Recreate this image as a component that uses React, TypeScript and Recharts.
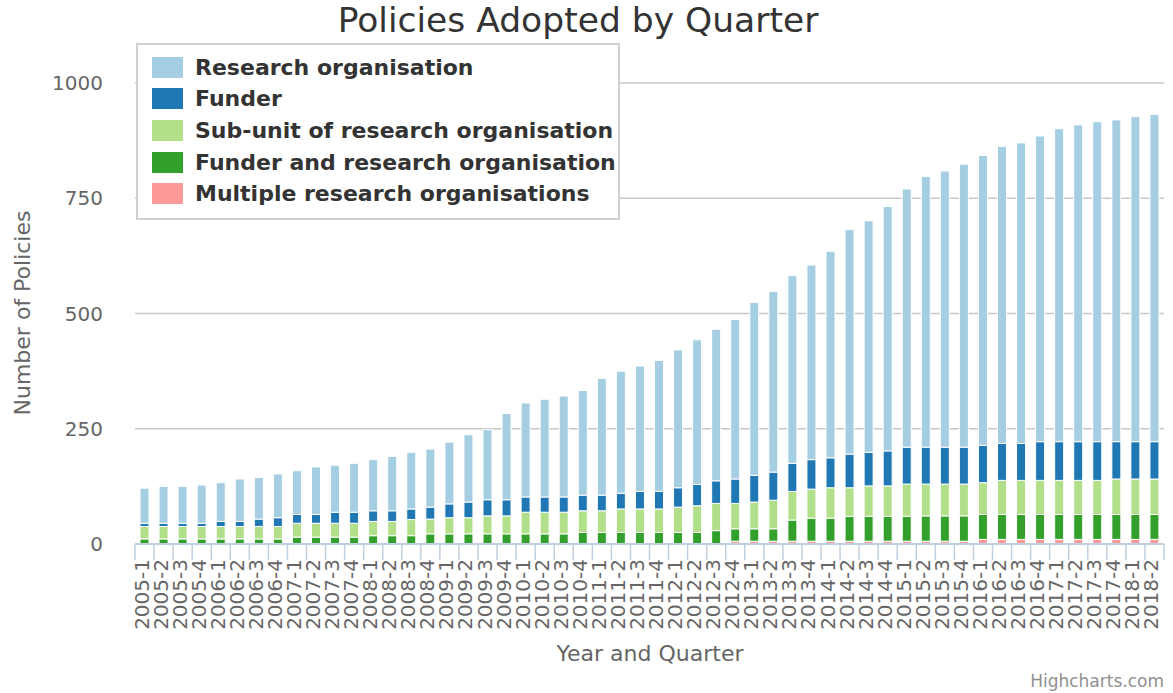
import { Bar, BarChart, CartesianGrid, XAxis, YAxis } from "recharts";

const quarters = [
  "2005-1", "2005-2", "2005-3", "2005-4", "2006-1", "2006-2", "2006-3", "2006-4",
  "2007-1", "2007-2", "2007-3", "2007-4", "2008-1", "2008-2", "2008-3", "2008-4",
  "2009-1", "2009-2", "2009-3", "2009-4", "2010-1", "2010-2", "2010-3", "2010-4",
  "2011-1", "2011-2", "2011-3", "2011-4", "2012-1", "2012-2", "2012-3", "2012-4",
  "2013-1", "2013-2", "2013-3", "2013-4", "2014-1", "2014-2", "2014-3", "2014-4",
  "2015-1", "2015-2", "2015-3", "2015-4", "2016-1", "2016-2", "2016-3", "2016-4",
  "2017-1", "2017-2", "2017-3", "2017-4", "2018-1", "2018-2",
];

const researchOrg = [
  76, 80, 80, 83, 84, 92, 90, 95, 95, 103, 102, 106, 111, 118, 123, 126, 134, 146,
  152, 187, 204, 212, 219, 227, 253, 265, 272, 284, 299, 314, 329, 346, 375, 392,
  407, 422, 448, 487, 502, 530, 560, 587, 599, 614, 629, 644, 652, 663, 679, 687,
  694, 698, 705, 710,
];

const funder = [
  7, 7, 7, 7, 11, 11, 16, 19, 19, 19, 24, 24, 23, 23, 23, 26, 30, 34, 35, 35, 33,
  33, 33, 34, 34, 34, 38, 38, 42, 46, 49, 53, 58, 61, 61, 64, 65, 73, 73, 76, 80,
  80, 80, 80, 81, 80, 80, 84, 84, 84, 84, 81, 81, 81,
];

const subUnit = [
  27, 27, 27, 27, 27, 27, 27, 27, 30, 30, 30, 30, 31, 31, 35, 32, 35, 35, 39, 39,
  47, 47, 47, 47, 47, 51, 51, 51, 55, 58, 59, 55, 58, 62, 62, 63, 66, 62, 66, 66,
  70, 69, 69, 69, 69, 74, 74, 74, 74, 74, 74, 77, 77, 77,
];

const funderAndResearch = [
  11, 11, 11, 11, 11, 11, 11, 11, 15, 15, 15, 15, 18, 18, 18, 22, 22, 22, 22, 22,
  22, 22, 22, 25, 25, 25, 25, 25, 25, 25, 29, 27, 27, 27, 46, 50, 50, 54, 54, 54,
  54, 55, 55, 55, 54, 54, 54, 54, 54, 54, 54, 54, 54, 54,
];

const multipleOrgs = [
  0, 0, 0, 0, 0, 0, 0, 0, 0, 0, 0, 0, 0, 0, 0, 0, 0, 0, 0, 0, 0, 0, 0, 0, 0, 0, 0,
  0, 0, 0, 0, 6, 6, 6, 6, 6, 6, 6, 6, 6, 6, 6, 6, 6, 10, 10, 10, 10, 10, 10, 10,
  10, 10, 10,
];

const yTicks = [0, 250, 500, 750, 1000];

const series = [
  { key: "research", label: "Research organisation", color: "#A6CEE3" },
  { key: "funder", label: "Funder", color: "#1F78B4" },
  { key: "subUnit", label: "Sub-unit of research organisation", color: "#B2DF8A" },
  { key: "funderAndResearch", label: "Funder and research organisation", color: "#33A02C" },
  { key: "multiple", label: "Multiple research organisations", color: "#FB9A99" },
];

const data = quarters.map((quarter, i) => ({
  quarter,
  research: researchOrg[i],
  funder: funder[i],
  subUnit: subUnit[i],
  funderAndResearch: funderAndResearch[i],
  multiple: multipleOrgs[i],
}));

const FONT = '"DejaVu Sans", Verdana, sans-serif';

const QuarterTick = (props: any) => {
  const { x, y, payload, index } = props;
  const half = payload.offset ?? 9.5;
  const ly = y + 15;
  return (
    <g>
      <line x1={x - half} x2={x - half} y1={y} y2={y + 16} stroke="#C0D0E0" strokeWidth={1.5} />
      {index === quarters.length - 1 && (
        <line x1={x + half} x2={x + half} y1={y} y2={y + 16} stroke="#C0D0E0" strokeWidth={1.5} />
      )}
      <text
        x={x - 3}
        y={ly}
        dy="0.35em"
        transform={`rotate(-90 ${x - 3} ${ly})`}
        textAnchor="end"
        fill="#666"
        fontSize={20}
        fontFamily={FONT}
      >
        {payload.value}
      </text>
    </g>
  );
};

const CountTick = (props: any) => {
  const { x, y, payload } = props;
  return (
    <text x={x} y={y} dy="0.35em" textAnchor="end" fill="#666" fontSize={20} fontFamily={FONT}>
      {payload.value}
    </text>
  );
};

export default function App() {
  return (
    <div
      style={{
        position: "absolute",
        left: 0,
        top: 0,
        width: 1173,
        height: 693,
        background: "#fff",
        fontFamily: FONT,
        overflow: "hidden",
      }}
    >
      <BarChart
        width={1173}
        height={693}
        data={data}
        margin={{ top: 83, right: 9, bottom: 39, left: 35 }}
        barSize={9}
      >
        <CartesianGrid vertical={false} stroke="#C8C8C8" strokeWidth={1.5} />
        <XAxis
          dataKey="quarter"
          interval={0}
          height={110}
          tickSize={0}
          tickMargin={0}
          tickLine={false}
          axisLine={{ stroke: "#C0D0E0", strokeWidth: 2 }}
          tick={<QuarterTick />}
        />
        <YAxis
          width={100}
          domain={[0, 1000]}
          ticks={yTicks}
          axisLine={false}
          tickLine={false}
          tickSize={0}
          tickMargin={32}
          tick={<CountTick />}
        />
        {[...series].reverse().map((s) => (
          <Bar
            key={s.key}
            dataKey={s.key}
            stackId="a"
            fill={s.color}
            stroke="#fff"
            strokeWidth={1}
            isAnimationActive={false}
          />
        ))}
      </BarChart>

      <div
        style={{
          position: "absolute",
          left: 0,
          width: 1156,
          top: 0,
          textAlign: "center",
          fontSize: 34.5,
          color: "#333",
        }}
      >
        Policies Adopted by Quarter
      </div>

      <div
        style={{
          position: "absolute",
          left: 136,
          top: 43,
          width: 480,
          height: 173,
          border: "2px solid #d0d0d0",
          background: "#fff",
        }}
      >
        {series.map((s, i) => (
          <div
            key={s.key}
            style={{
              position: "absolute",
              left: 14,
              top: 11 + i * 31.7,
              height: 22,
              display: "flex",
              alignItems: "center",
              whiteSpace: "nowrap",
            }}
          >
            <span style={{ width: 31, height: 21, background: s.color, display: "inline-block" }} />
            <span style={{ marginLeft: 12, fontSize: 22, fontWeight: "bold", color: "#333" }}>
              {s.label}
            </span>
          </div>
        ))}
      </div>

      <div
        style={{
          position: "absolute",
          left: 22,
          top: 313,
          transform: "translate(-50%, -50%) rotate(-90deg)",
          fontSize: 22,
          color: "#666",
          whiteSpace: "nowrap",
        }}
      >
        Number of Policies
      </div>

      <div
        style={{
          position: "absolute",
          left: 650,
          top: 653,
          transform: "translate(-50%, -50%)",
          fontSize: 22,
          color: "#666",
          whiteSpace: "nowrap",
        }}
      >
        Year and Quarter
      </div>

      <div
        style={{
          position: "absolute",
          right: 9,
          top: 671,
          fontSize: 17,
          color: "#909090",
          whiteSpace: "nowrap",
        }}
      >
        Highcharts.com
      </div>
    </div>
  );
}
